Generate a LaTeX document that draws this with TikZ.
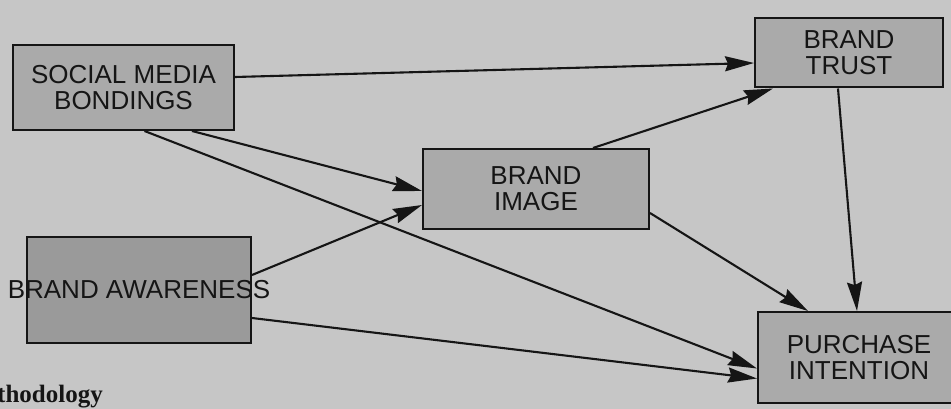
\documentclass[tikz,border=0pt]{standalone}
\usepackage{fontspec}
\setmainfont{Liberation Sans}
\newfontfamily\serifbold{Liberation Serif}
\usetikzlibrary{arrows.meta}
\definecolor{bg}{HTML}{C6C6C6}
\definecolor{boxfill}{HTML}{AAAAAA}
\definecolor{boxdark}{HTML}{9A9A9A}
\definecolor{ink}{HTML}{151515}
\begin{document}
\begin{tikzpicture}[x=1pt,y=-1pt,
 box/.style={draw=ink, line width=2pt, fill=boxfill, text=ink, align=center,
   font=\fontsize{26}{26}\selectfont, inner sep=0pt},
 link/.style={draw=ink, line width=2.1pt, -{Stealth[length=29pt,width=15pt,inset=3pt]}}]
\path[use as bounding box] (0,0) rectangle (951,409);
\clip (0,0) rectangle (951,409);
\fill[bg] (0,0) rectangle (951,409);
\node[box, minimum width=221pt, minimum height=85pt] (smb) at (123.5,87.5) {SOCIAL MEDIA\\BONDINGS};
\node[box, fill=boxdark, minimum width=224pt, minimum height=106pt] (aw) at (139,290) {\makebox[0pt]{BRAND AWARENESS}};
\node[box, minimum width=226pt, minimum height=80pt] (img) at (536,189) {BRAND\\IMAGE};
\node[box, minimum width=188pt, minimum height=69pt] (trust) at (849,53) {BRAND\\TRUST};
\node[box, minimum width=202pt, minimum height=91pt] (pi) at (859,357.5) {PURCHASE\\INTENTION};
\draw[link] ([yshift=10.5pt]smb.east) -- ([yshift=-10pt]trust.west);
\draw[link] ([xshift=68.5pt]smb.south) -- ([yshift=-2pt]img.west);
\draw[link] ([xshift=21pt]smb.south) -- ([yshift=-11pt]pi.west);
\draw[link] ([yshift=15pt]aw.east) -- ([yshift=-16pt]img.west);
\draw[link] ([yshift=-28pt]aw.east) -- ([yshift=-21pt]pi.west);
\draw[link] ([xshift=57pt]img.north) -- ([xshift=-76pt]trust.south);
\draw[link] ([yshift=-24pt]img.east) -- ([xshift=-51pt]pi.north);
\draw[link] ([xshift=-11pt]trust.south) -- ([xshift=-2pt]pi.north);
\node[anchor=base west, font=\serifbold\bfseries\fontsize{25}{25}\selectfont, text=ink, inner sep=0pt] (meth) at (-3,402) {thodology};
\end{tikzpicture}
\end{document}
